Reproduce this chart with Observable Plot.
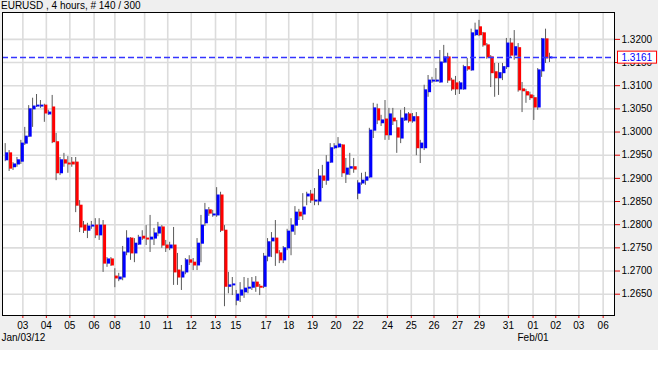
<!DOCTYPE html>
<html><head><meta charset="utf-8">
<script src="https://cdn.jsdelivr.net/npm/d3@7"></script>
<script src="https://cdn.jsdelivr.net/npm/@observablehq/plot@0.6"></script>
<style>
html,body{margin:0;padding:0;background:#fff;}
#wrap{position:relative;width:658px;height:350px;background:#efefef;font-family:"Liberation Sans",Arial,sans-serif;overflow:hidden;}
#title{position:absolute;left:1px;top:0px;font-size:10px;line-height:12px;color:#000;white-space:nowrap;z-index:2;}
#chart{position:absolute;left:0;top:0;}
</style></head><body>
<div id="wrap"><div id="title">EURUSD , 4 hours, # 140 / 300</div><div id="chart"></div></div>
<script>
// ---- data (4-hour EURUSD bars) ----
const opens = [1.2939,1.2954,1.2924,1.2930,1.2936,1.2975,1.2990,1.3049,1.3055,1.3055,
1.3057,1.3038,1.3053,1.2978,1.2911,1.2939,1.2932,1.2934,1.2934,1.2841,
1.2798,1.2787,1.2796,1.2798,1.2777,1.2798,1.2716,1.2725,1.2688,1.2682,
1.2686,1.2740,1.2770,1.2738,1.2757,1.2774,1.2770,1.2768,1.2770,1.2781,
1.2794,1.2755,1.2749,1.2755,1.2701,1.2686,1.2697,1.2723,1.2718,1.2712,
1.2759,1.2803,1.2831,1.2820,1.2820,1.2863,1.2787,1.2666,1.2669,1.2636,
1.2647,1.2654,1.2662,1.2664,1.2675,1.2666,1.2666,1.2731,1.2764,1.2770,
1.2738,1.2723,1.2749,1.2785,1.2798,1.2826,1.2822,1.2861,1.2865,1.2850,
1.2850,1.2904,1.2895,1.2934,1.2965,1.2967,1.2971,1.2908,1.2921,1.2924,
1.2867,1.2889,1.2895,1.2902,1.3003,1.3049,1.3019,1.3027,1.2993,1.3029,
1.3008,1.2986,1.3025,1.3038,1.3023,1.3032,1.2965,1.2965,1.3086,1.3109,
1.3109,1.3107,1.3150,1.3161,1.3111,1.3105,1.3092,1.3092,1.3140,1.3133,
1.3209,1.3226,1.3213,1.3187,1.3161,1.3129,1.3116,1.3127,1.3140,1.3191,
1.3165,1.3181,1.3092,1.3086,1.3079,1.3073,1.3053,1.3131,1.3200,1.3159];
const highs = [1.2975,1.2960,1.2934,1.2945,1.2982,1.3010,1.3057,1.3073,1.3081,1.3068,
1.3060,1.3047,1.3079,1.2997,1.2945,1.2954,1.2947,1.2945,1.2945,1.2852,
1.2807,1.2803,1.2807,1.2813,1.2813,1.2809,1.2729,1.2729,1.2705,1.2695,
1.2753,1.2787,1.2772,1.2770,1.2777,1.2787,1.2798,1.2820,1.2792,1.2805,
1.2798,1.2766,1.2762,1.2794,1.2738,1.2712,1.2727,1.2733,1.2727,1.2770,
1.2820,1.2846,1.2837,1.2831,1.2880,1.2870,1.2798,1.2697,1.2686,1.2658,
1.2675,1.2686,1.2684,1.2686,1.2688,1.2671,1.2738,1.2770,1.2783,1.2809,
1.2744,1.2753,1.2790,1.2813,1.2839,1.2833,1.2867,1.2870,1.2874,1.2878,
1.2919,1.2928,1.2949,1.2975,1.2975,1.2988,1.2973,1.2943,1.2954,1.2943,
1.2895,1.2911,1.2913,1.3008,1.3062,1.3060,1.3036,1.3068,1.3051,1.3051,
1.3025,1.3047,1.3053,1.3042,1.3040,1.3042,1.2982,1.3101,1.3122,1.3118,
1.3137,1.3176,1.3187,1.3170,1.3116,1.3120,1.3109,1.3144,1.3159,1.3222,
1.3235,1.3241,1.3215,1.3191,1.3165,1.3148,1.3148,1.3148,1.3202,1.3202,
1.3219,1.3191,1.3107,1.3092,1.3086,1.3079,1.3137,1.3202,1.3222,1.3170];
const lows = [1.2936,1.2915,1.2917,1.2924,1.2930,1.2971,1.2988,1.3010,1.3053,1.3051,
1.3021,1.3036,1.2975,1.2895,1.2906,1.2924,1.2911,1.2924,1.2826,1.2783,
1.2781,1.2770,1.2790,1.2770,1.2766,1.2697,1.2708,1.2710,1.2664,1.2677,
1.2679,1.2733,1.2723,1.2718,1.2755,1.2766,1.2755,1.2740,1.2755,1.2774,
1.2749,1.2740,1.2744,1.2669,1.2669,1.2658,1.2692,1.2712,1.2701,1.2701,
1.2718,1.2796,1.2818,1.2816,1.2816,1.2783,1.2623,1.2651,1.2647,1.2625,
1.2632,1.2641,1.2651,1.2658,1.2654,1.2647,1.2662,1.2720,1.2729,1.2710,
1.2716,1.2716,1.2744,1.2733,1.2777,1.2809,1.2809,1.2841,1.2846,1.2841,
1.2841,1.2878,1.2885,1.2932,1.2962,1.2965,1.2902,1.2889,1.2906,1.2911,
1.2854,1.2885,1.2885,1.2900,1.2986,1.3016,1.3012,1.2982,1.2982,1.3014,
1.2954,1.2975,1.3023,1.3019,1.3019,1.2949,1.2932,1.2960,1.3075,1.3105,
1.3107,1.3105,1.3148,1.3105,1.3088,1.3079,1.3081,1.3090,1.3131,1.3131,
1.3206,1.3206,1.3183,1.3157,1.3096,1.3075,1.3079,1.3111,1.3135,1.3159,
1.3155,1.3086,1.3042,1.3062,1.3068,1.3025,1.3047,1.3118,1.3148,1.3150];
const closes = [1.2954,1.2921,1.2930,1.2939,1.2975,1.2990,1.3049,1.3055,1.3057,1.3057,
1.3040,1.3042,1.2978,1.2911,1.2939,1.2932,1.2930,1.2930,1.2841,1.2794,
1.2787,1.2796,1.2798,1.2777,1.2798,1.2716,1.2725,1.2712,1.2684,1.2686,
1.2740,1.2770,1.2738,1.2759,1.2772,1.2770,1.2768,1.2772,1.2781,1.2794,
1.2755,1.2749,1.2755,1.2697,1.2686,1.2697,1.2723,1.2718,1.2712,1.2759,
1.2798,1.2831,1.2824,1.2822,1.2863,1.2787,1.2666,1.2669,1.2671,1.2649,
1.2658,1.2662,1.2664,1.2675,1.2666,1.2664,1.2731,1.2762,1.2770,1.2738,
1.2723,1.2749,1.2785,1.2798,1.2826,1.2818,1.2837,1.2865,1.2852,1.2852,
1.2904,1.2895,1.2934,1.2965,1.2969,1.2973,1.2911,1.2921,1.2924,1.2919,
1.2889,1.2895,1.2902,1.3003,1.3051,1.3025,1.3025,1.2993,1.3038,1.3023,
1.2988,1.3029,1.3038,1.3023,1.3032,1.2965,1.2975,1.3090,1.3111,1.3111,
1.3111,1.3150,1.3161,1.3111,1.3092,1.3092,1.3105,1.3140,1.3135,1.3213,
1.3219,1.3209,1.3187,1.3161,1.3127,1.3116,1.3127,1.3140,1.3191,1.3165,
1.3183,1.3090,1.3088,1.3079,1.3073,1.3053,1.3133,1.3200,1.3159,1.3161];

// x axis: bar-index position of each day label
const dayTickPos = [4,10,16,22.2,27.5,35.1,41,47,53.2,58.4,66.1,71.9,78,84,89.6,97.1,103.2,109,115,120.6,128,134.3,140.1,146,152.2];
const dayTickLabels = ["03","04","05","06","08","10","11","12","13","15","17","18","19","20","22","24","25","26","27","29","31","01","02","03","06"];
const monthLabels = ["Jan/03/12","Feb/01"];
const monthLabelPos = [-1.2,134.3];
const priceTicks = [1.2650,1.2700,1.2750,1.2800,1.2850,1.2900,1.2950,1.3000,1.3050,1.3100,1.3150,1.3200];
const lastPrice = 1.3161;

const bars = opens.map((o,i)=>({i, open:o, high:highs[i], low:lows[i], close:closes[i], dir: closes[i]>=o ? "up" : "down"}));
const labelOf = new Map(dayTickPos.map((p,k)=>[p, dayTickLabels[k]]));
const priceText = lastPrice.toFixed(4);

const chart = Plot.plot({
  width: 658, height: 350,
  marginLeft: 2, marginRight: 44, marginTop: 12, marginBottom: 35,
  style: {fontFamily: '"Liberation Sans", Arial, sans-serif', fontSize: "10px", background: "transparent", color: "black", overflow: "visible"},
  x: {type: "linear", domain: [-1.2, 155.1], axis: null, label: null},
  y: {domain: [1.2604, 1.3258], axis: null, label: null},
  color: {domain: ["up","down"], range: ["#0000ff","#ff0000"]},
  marks: [
    Plot.frame({fill: "white"}),
    Plot.ruleY(priceTicks, {stroke: "#dcdcdc", strokeWidth: 1.6}),
    Plot.ruleX(dayTickPos, {stroke: "#dcdcdc", strokeWidth: 1.6}),
    Plot.ruleX(bars, {x: "i", y1: "low", y2: "high", stroke: "#5a5a5a", strokeWidth: 1, dx: -2}),
    Plot.rect(bars, {x1: d => d.i - 0.38, x2: d => d.i + 0.38, y1: "open", y2: "close", fill: "dir", insetTop: -0.5, insetBottom: -0.5}),
    Plot.ruleY([lastPrice], {stroke: "#3535ff", strokeWidth: 1.4, strokeDasharray: "6,3"}),
    Plot.axisY(priceTicks, {anchor: "right", label: null, tickSize: 5, tickPadding: 2, stroke: "#e00000", fill: "black", tickFormat: d => d.toFixed(4), fontSize: 10}),
    Plot.axisX(dayTickPos, {anchor: "bottom", label: null, tickSize: 3, tickPadding: 3, stroke: "#e00000", fill: "black", tickFormat: d => labelOf.get(d), fontSize: 10}),
    Plot.text([monthLabels[0]], {x: () => monthLabelPos[0], text: d => d, frameAnchor: "bottom", dy: 25, dx: -1, textAnchor: "start", fill: "black"}),
    Plot.text([monthLabels[1]], {x: () => monthLabelPos[1], text: d => d, frameAnchor: "bottom", dy: 25, textAnchor: "middle", fill: "black"}),
    Plot.frame({stroke: "black"}),
    Plot.text([lastPrice], {y: d => d, text: d => d.toFixed(4), frameAnchor: "right", dx: 7, textAnchor: "start", fill: "#0000ff"})
  ]
});
document.getElementById("chart").appendChild(chart);

// white box with red border behind the current-price label
const lblNode = Array.from(chart.querySelectorAll("text")).filter(t => t.textContent === priceText && t.getAttribute("fill") !== "black").pop();
if (lblNode) {
  const bb = lblNode.getBBox();
  const parent = lblNode.parentNode;
  const ns = "http://www.w3.org/2000/svg";
  const r = document.createElementNS(ns, "rect");
  r.setAttribute("x", bb.x - 4); r.setAttribute("y", bb.y - 0.5);
  r.setAttribute("width", bb.width + 8); r.setAttribute("height", bb.height + 1);
  r.setAttribute("fill", "white"); r.setAttribute("stroke", "#ff0000"); r.setAttribute("stroke-width", "1");
  const tr = lblNode.getAttribute("transform");
  if (tr) r.setAttribute("transform", tr);
  parent.insertBefore(r, lblNode);
}
</script>
</body></html>
